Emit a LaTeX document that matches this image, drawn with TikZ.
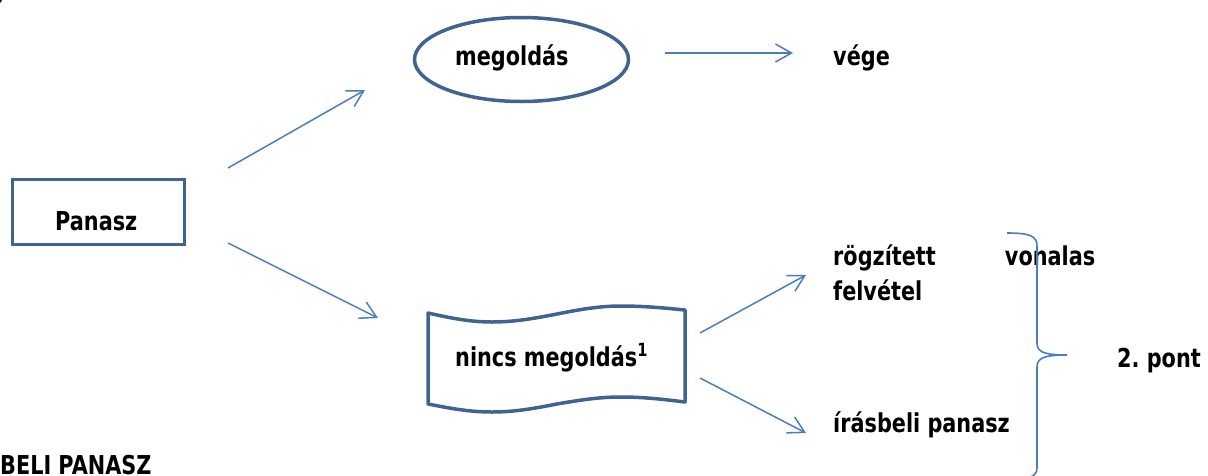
\documentclass[tikz,border=0pt]{standalone}
\usepackage{fontspec}
\setmainfont{DejaVu Sans}[FakeStretch=0.8]
\usetikzlibrary{arrows.meta,shapes.geometric}
\definecolor{boxblue}{RGB}{63,100,145}
\definecolor{arrowblue}{RGB}{74,126,187}
\frenchspacing
\begin{document}
\begin{tikzpicture}[x=1pt,y=-1pt,
  every node/.style={font=\fontsize{26}{35}\selectfont\bfseries},
  txt/.style={inner sep=0pt, anchor=base west},
  arr/.style={line width=1.5pt, draw=arrowblue, -{Straight Barb[length=16pt,width=18pt,line width=1.5pt]}},
  shapeline/.style={draw=boxblue, line width=3.5pt},
  bracestyle/.style={draw=arrowblue, line width=1.6pt}
]
\useasboundingbox (0,0) rectangle (1208,475);

% fragment at top-left
\node[inner sep=0pt, anchor=base east] (frag) at (6,-1) {)};

% Panasz box
\node[shapeline, rectangle, minimum width=172pt, minimum height=65pt, inner sep=0pt] (panaszbox) at (98.5,212) {};
\node[txt] (panasz) at (55,230) {Panasz};

% megoldás ellipse
\node[shapeline, ellipse, minimum width=214pt, minimum height=84pt, inner sep=0pt] (megell) at (521.5,59.5) {};
\node[txt] (megoldas) at (455,65) {megoldás};
\node[txt] (vege) at (833,65) {vége};

% tape shape
\draw[shapeline, line join=round] (428,313) sin (492,322) cos (557,314) sin (621,306) cos (685,310)
  -- (685,402) sin (621,397) cos (557,404) sin (492,412) cos (428,404) -- cycle;
\node[txt] (nincs) at (455,366) {nincs megoldás\textsuperscript{1}};

% right texts
\node[txt, text width=262pt, align=left] (rogz) at (833,265) {rögzített\hfill vonalas\\felvétel};
\node[txt] (irasb) at (833,432) {írásbeli panasz};
\node[txt] (pont) at (1117,367) {2. pont};
\node[txt] (beli) at (0,474) {BELI PANASZ};

% arrows
\coordinate (a1s) at (228,168); \coordinate (a1e) at (365,90);
\coordinate (a2s) at (228,243); \coordinate (a2e) at (378,318);
\coordinate (a3s) at (665,53);  \coordinate (a3e) at (793,53);
\coordinate (a4s) at (700,333); \coordinate (a4e) at (806,275);
\coordinate (a5s) at (700,378); \coordinate (a5e) at (806,433);
\draw[arr] (a1s) -- (a1e);
\draw[arr] (a2s) -- (a2e);
\draw[arr] (a3s) -- (a3e);
\draw[arr] (a4s) -- (a4e);
\draw[arr] (a5s) -- (a5e);

% brace
\coordinate (btop) at (1007,233);
\coordinate (btip) at (1067,355);
\coordinate (bbot) at (1007,480);
\draw[bracestyle] (btop) .. controls (1030,233) and (1037,236) .. (1037,246)
  -- (1037,343) .. controls (1037,352) and (1044,355) .. (btip)
  .. controls (1044,355) and (1037,358) .. (1037,367)
  -- (1037,468) .. controls (1037,476) and (1030,480) .. (bbot);
\end{tikzpicture}
\end{document}
